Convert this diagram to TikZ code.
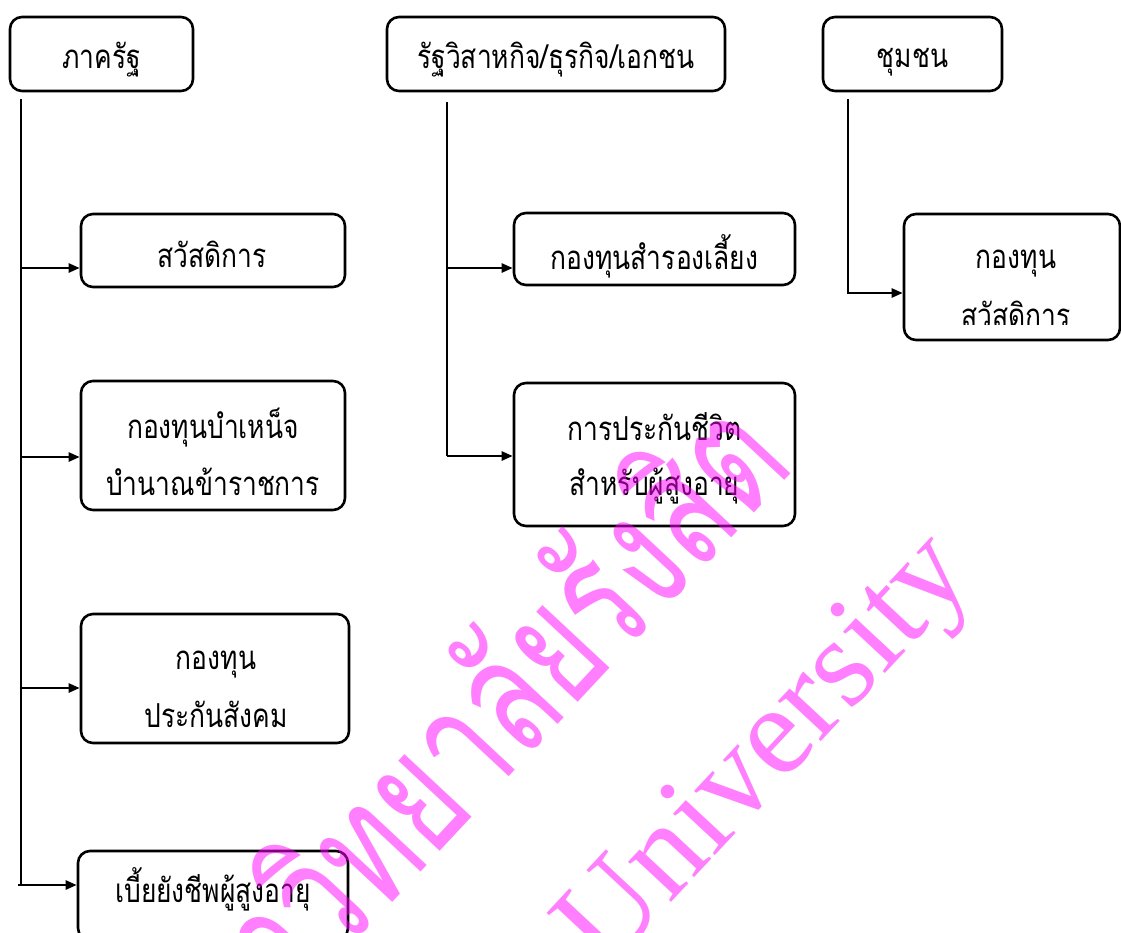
\documentclass[tikz,border=0pt]{standalone}
\usepackage{fontspec}
\newfontfamily\thai[Script=Thai,FakeStretch=0.8]{Loma}
\newfontfamily\thaiwm[Script=Thai,FakeStretch=0.7]{Loma}
\newfontfamily\serifwm{Liberation Serif}
\usetikzlibrary{arrows.meta,calc}
\definecolor{wmpink}{RGB}{255,0,255}
\tikzset{
  box/.style={draw,line width=2.6pt,rounded corners=12pt,inner sep=0pt},
  lbl/.style={inner sep=0pt,anchor=base,font=\thai\fontsize{33}{40}\selectfont},
  link/.style={line width=2.4pt},
  arr/.style={line width=2.4pt,-{Triangle[length=11pt,width=9pt]}},
  wm/.style={text=wmpink,text opacity=0.5,inner sep=0pt}
}
\begin{document}
\begin{tikzpicture}[x=1pt,y=-1pt]
\useasboundingbox (0,0) rectangle (1121,932);
\clip (0,0) rectangle (1121,932);
% top-level boxes
\node[box,minimum width=183pt,minimum height=74pt] (A) at (101.5,54) {};
\node[lbl] (At) at (101.5,68) {ภาครัฐ};
\node[box,minimum width=338pt,minimum height=74pt] (B) at (556,54) {};
\node[lbl] (Bt) at (556,68) {รัฐวิสาหกิจ/ธุรกิจ/เอกชน};
\node[box,minimum width=179pt,minimum height=74pt] (C) at (912.5,54) {};
\node[lbl] (Ct) at (912.5,67) {ชุมชน};
% children of A
\node[box,minimum width=264pt,minimum height=73pt] (A1) at (213,250.5) {};
\node[lbl] (A1t) at (212,267) {สวัสดิการ};
\node[box,minimum width=264pt,minimum height=129pt] (A2) at (213,445.5) {};
\node[lbl] (A2t1) at (213,438) {กองทุนบำเหน็จ};
\node[lbl] (A2t2) at (213,495) {บำนาณข้าราชการ};
\node[box,minimum width=268pt,minimum height=129pt] (A3) at (215,678.5) {};
\node[lbl] (A3t1) at (216,669) {กองทุน};
\node[lbl] (A3t2) at (216,727) {ประกันสังคม};
\node[box,minimum width=270pt,minimum height=89pt] (A4) at (213,895.5) {};
\node[lbl] (A4t) at (213,902) {เบี้ยยังชีพผู้สูงอายุ};
% children of B
\node[box,minimum width=281pt,minimum height=72pt] (B1) at (654.5,249) {};
\node[lbl] (B1t) at (654.5,269) {กองทุนสำรองเลี้ยง};
\node[box,minimum width=281pt,minimum height=143pt] (B2) at (654.5,454.5) {};
\node[lbl] (B2t1) at (654.5,440) {การประกันชีวิต};
\node[lbl] (B2t2) at (654.5,495) {สำหรับผู้สูงอายุ};
% child of C
\node[box,minimum width=216pt,minimum height=126pt] (C1) at (1012,277) {};
\node[lbl] (C1t1) at (1016,268) {กองทุน};
\begin{scope}
  \clip (900,280) rectangle (1121,324);
  \node[lbl] (C1t2) at (1016,327) {สวัสดิการ};
\end{scope}
% trunks
\coordinate (A0) at (21,99);
\coordinate (A1in) at (21,268);
\coordinate (A2in) at (21,457);
\coordinate (A3in) at (21,688);
\coordinate (A4in) at (21,885);
\coordinate (B0) at (447,102);
\coordinate (B1in) at (447,268);
\coordinate (B2in) at (447,456);
\coordinate (C0) at (848,99);
\coordinate (C1in) at (848,293);
\draw[link] (A0) -- (A4in);
\draw[arr] (A1in) -- (A1in -| A1.west);
\draw[arr] (A2in) -- (A2in -| A2.west);
\draw[arr] (A3in) -- (A3in -| A3.west);
\draw[arr] ([xshift=-3pt]A4in) -- (A4in -| A4.west);
\draw[link] (B0) -- (B2in);
\draw[arr] (B1in) -- (B1in -| B1.west);
\draw[arr] (B2in) -- (B2in -| B2.west);
\draw[arr] (C0) -- (C1in) -- (C1in -| C1.west);
% watermark
\node[wm,anchor=base east,rotate=47,font=\thaiwm\fontsize{165}{165}\selectfont] (wm1) at (797,468) {มหาวิทยาลัยรังสิต};
\node[wm,rotate=47,font=\serifwm\fontsize{128}{128}\selectfont] (wm2) at (770,755) {University};
\end{tikzpicture}
\end{document}
